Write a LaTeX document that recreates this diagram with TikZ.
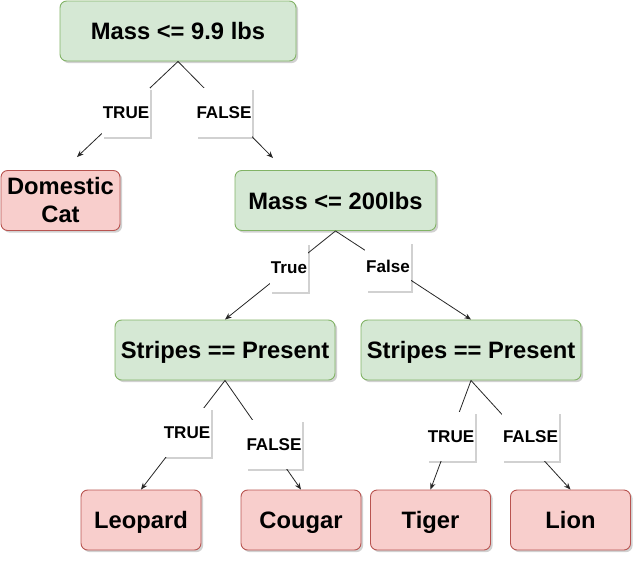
\documentclass[tikz,border=0pt]{standalone}
\usepackage{fontspec}
\setmainfont{Liberation Sans}
\usetikzlibrary{shadows,arrows.meta}
\definecolor{gfill}{HTML}{D5E8D4}
\definecolor{gline}{HTML}{82B366}
\definecolor{rfill}{HTML}{F8CECC}
\definecolor{rline}{HTML}{B85450}
\tikzset{
  sh/.style={drop shadow={shadow xshift=1.6pt,shadow yshift=-1.6pt,fill=black,opacity=0.18}},
  box/.style={sh,rounded corners=5pt,line width=0.7pt,inner sep=0pt,minimum height=45pt,
    align=center,text height=12.75pt,text depth=0pt,font=\fontsize{17.8}{21}\selectfont\bfseries},
  gbox/.style={box,fill=gfill,draw=gline},
  rbox/.style={box,fill=rfill,draw=rline,minimum width=90pt},
  lab/.style={sh,fill=white,inner xsep=0.6pt,inner ysep=0pt,minimum height=36.75pt,
    text height=9.2pt,text depth=0pt,font=\fontsize{12.8}{15}\selectfont\bfseries},
  edge/.style={draw=black!85,line width=0.6pt,-{Stealth[length=5pt,width=4pt]}}
}
\begin{document}
\begin{tikzpicture}[x=0.75pt,y=-0.75pt]
\useasboundingbox (0,0) rectangle (642,562);
% decision nodes
\node[gbox,minimum width=177pt] (root) at (178,31) {Mass <= 9.9 lbs};
\node[gbox,minimum width=150.75pt] (m200) at (335.5,200.5) {Mass <= 200lbs};
\node[gbox,minimum width=165pt] (sl) at (225,350) {Stripes == Present};
\node[gbox,minimum width=165pt] (sr) at (471,350) {Stripes == Present};
% leaves
\node[rbox,minimum width=89.25pt,text height=,text depth=] (cat) at (60.5,200.5) {Domestic\\Cat};
\node[rbox] (leo) at (141,520) {Leopard};
\node[rbox] (cou) at (301,520) {Cougar};
\node[rbox] (tig) at (430.5,520) {Tiger};
\node[rbox] (lion) at (570.5,520) {Lion};
% free ends
\coordinate (e1) at (77,157);
\coordinate (e2) at (273,158);
% connectors
\draw[edge] (root.south) -- (e1);
\draw[edge] (root.south) -- (e2);
\draw[edge] (m200.south) -- (sl.north);
\draw[edge] (m200.south) -- (sr.north);
\draw[edge] (sl.south) -- (leo.north);
\draw[edge] (sl.south) -- (cou.north);
\draw[edge] (sr.south) -- (tig.north);
\draw[edge] (sr.south) -- (lion.north);
% labels
\node[lab] (t1) at (126,112.5) {TRUE};
\node[lab] (f1) at (224,112.5) {FALSE};
\node[lab] (t2) at (289,267.5) {True};
\node[lab] (f2) at (388,266.5) {False};
\node[lab] (t3) at (187,432.5) {TRUE};
\node[lab] (f3) at (274,444.5) {FALSE};
\node[lab] (t4) at (451,436.5) {TRUE};
\node[lab] (f4) at (530.5,436.5) {FALSE};
\end{tikzpicture}
\end{document}
